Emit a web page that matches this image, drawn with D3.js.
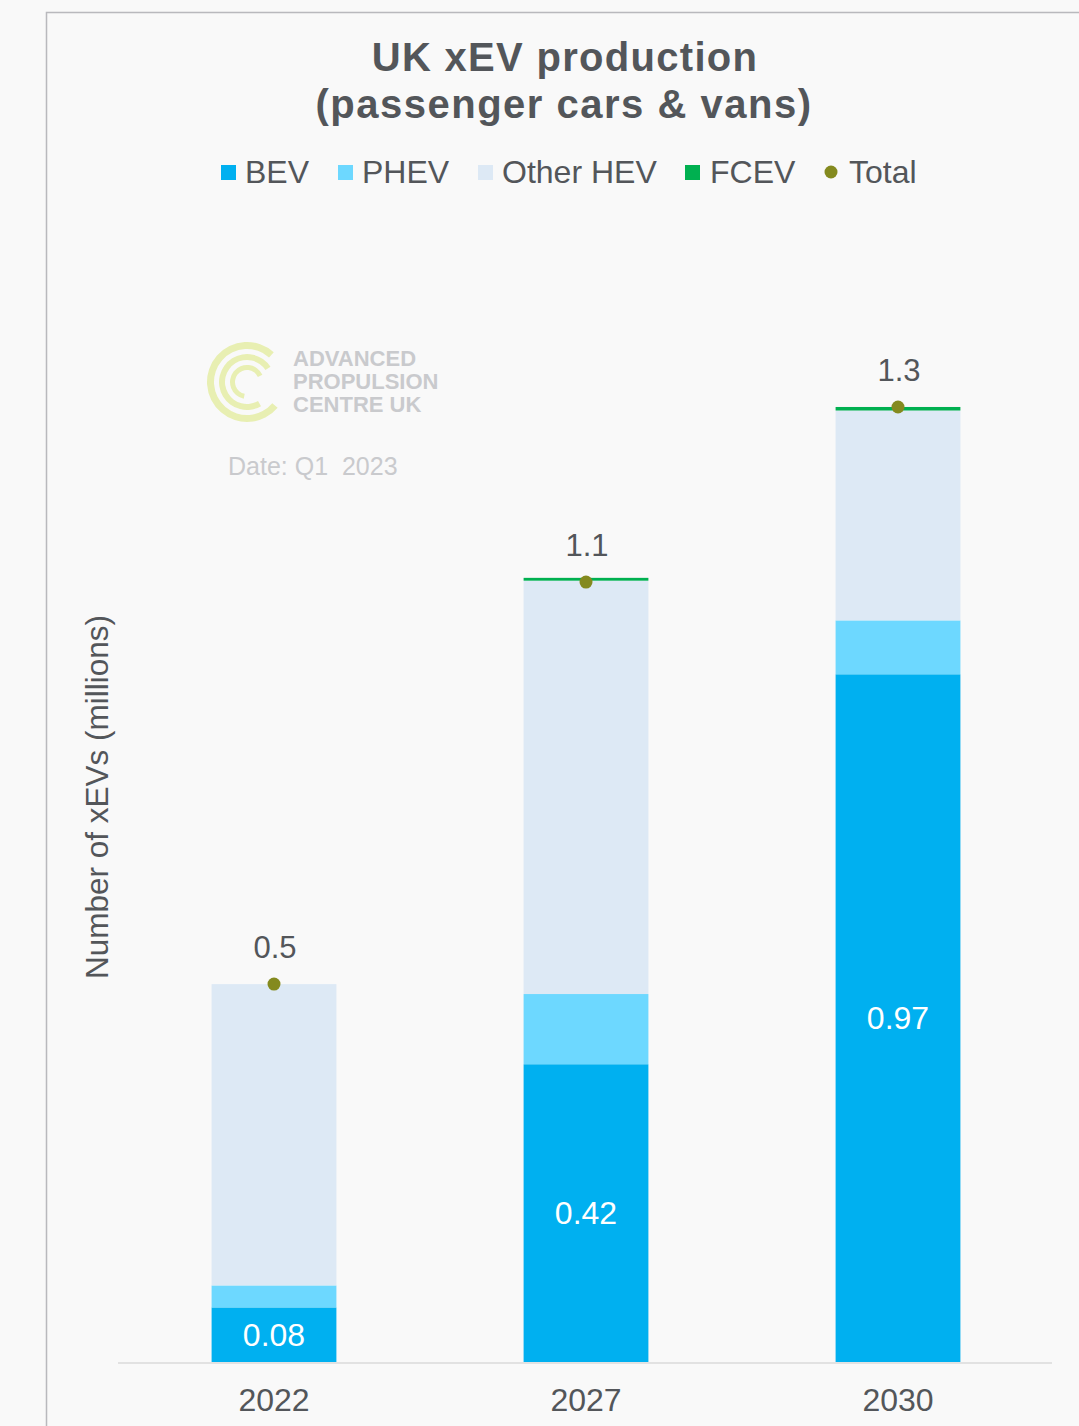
<!DOCTYPE html>
<html><head><meta charset="utf-8">
<script src="https://cdn.jsdelivr.net/npm/d3@7"></script>
<style>html,body{margin:0;padding:0;background:#f9f9f9;}svg{display:block;font-family:"Liberation Sans",Arial,sans-serif;}</style>
</head><body>
<script>
const years = ["2022", "2027", "2030"];
const bev = [0.077, 0.42, 0.97];
const phev = [0.031, 0.099, 0.076];
const otherHev = [0.425, 0.583, 0.296];
const fcev = [0.0, 0.004, 0.005];
const totalValues = [0.533, 1.100, 1.347];
const totalLabels = ["0.5", "1.1", "1.3"];
const bevLabels = ["0.08", "0.42", "0.97"];
const seriesNames = ["BEV", "PHEV", "Other HEV", "FCEV"];
const seriesColors = ["#00b0f0", "#6dd8ff", "#dde9f5", "#00b050"];
const totalColor = "#848a1f";
const textColor = "#53565a";

const W = 1079, H = 1426;
const svg = d3.select("body").append("svg").attr("width", W).attr("height", H);
svg.append("rect").attr("width", W).attr("height", H).attr("fill", "#f9f9f9");
// frame
svg.append("path").attr("d", `M46.5,${H} V12.5 H${W}`).attr("fill", "none").attr("stroke", "#b9b9bd").attr("stroke-width", 1.5);

const rows = years.map((y, i) => ({year: y, BEV: bev[i], PHEV: phev[i], "Other HEV": otherHev[i], FCEV: fcev[i]}));
const stack = d3.stack().keys(seriesNames)(rows);

const x = d3.scaleBand().domain(years).range([118, 1054]).paddingInner(0.6).paddingOuter(0.3);
const baseY = 1362;
const y = d3.scaleLinear().domain([0, 1.6]).range([baseY, baseY - 1.6 * 709]);

// bars
stack.forEach((s, si) => {
  svg.append("g").selectAll("rect").data(s).join("rect")
    .attr("x", d => x(d.data.year))
    .attr("width", x.bandwidth())
    .attr("y", d => y(d[1]))
    .attr("height", d => Math.max(0, y(d[0]) - y(d[1])))
    .attr("fill", seriesColors[si]);
});

// baseline
svg.append("line").attr("x1", 118).attr("x2", 1052).attr("y1", baseY + 1).attr("y2", baseY + 1)
  .attr("stroke", "#e2e2e2").attr("stroke-width", 2);

// x axis labels
const xAxis = svg.append("g").attr("transform", `translate(0,${baseY})`)
  .call(d3.axisBottom(x).tickSize(0).tickPadding(0));
xAxis.select(".domain").remove();
xAxis.selectAll("text").attr("font-size", 32).attr("fill", textColor)
  .attr("font-family", '"Liberation Sans",Arial,sans-serif').attr("dy", null).attr("y", 49);

// BEV labels
svg.append("g").selectAll("text").data(stack[0]).join("text")
  .attr("x", d => x(d.data.year) + x.bandwidth() / 2)
  .attr("y", d => (y(d[0]) + y(d[1])) / 2 + 11)
  .attr("text-anchor", "middle").attr("font-size", 32).attr("fill", "#ffffff")
  .text((d, i) => bevLabels[i]);

// totals
const totals = years.map((yr, i) => ({year: yr, v: totalValues[i], label: totalLabels[i]}));
svg.append("g").selectAll("circle").data(totals).join("circle")
  .attr("cx", d => x(d.year) + x.bandwidth() / 2).attr("cy", d => y(d.v)).attr("r", 6.5).attr("fill", totalColor);
svg.append("g").selectAll("text").data(totals).join("text")
  .attr("x", d => x(d.year) + x.bandwidth() / 2 + 1).attr("y", d => y(d.v) - 26)
  .attr("text-anchor", "middle").attr("font-size", 31).attr("fill", textColor).text(d => d.label);

// title
svg.append("text").attr("x", 565).attr("y", 71).attr("text-anchor", "middle").attr("letter-spacing", 1.3)
  .attr("font-size", 40).attr("font-weight", "bold").attr("fill", textColor).text("UK xEV production");
svg.append("text").attr("x", 564).attr("y", 118).attr("text-anchor", "middle").attr("letter-spacing", 1.5)
  .attr("font-size", 40).attr("font-weight", "bold").attr("fill", textColor).text("(passenger cars & vans)");

// legend
const legendItems = [
  {name: "BEV", color: seriesColors[0], sx: 221, tx: 245, type: "sq"},
  {name: "PHEV", color: seriesColors[1], sx: 338, tx: 362, type: "sq"},
  {name: "Other HEV", color: seriesColors[2], sx: 478, tx: 502, type: "sq"},
  {name: "FCEV", color: seriesColors[3], sx: 685, tx: 710, type: "sq"},
  {name: "Total", color: totalColor, sx: 824, tx: 849, type: "dot"}
];
const lg = svg.append("g");
legendItems.forEach(it => {
  if (it.type === "sq") lg.append("rect").attr("x", it.sx).attr("y", 165).attr("width", 15).attr("height", 15).attr("fill", it.color);
  else lg.append("circle").attr("cx", it.sx + 7).attr("cy", 172).attr("r", 6.5).attr("fill", it.color);
  lg.append("text").attr("x", it.tx).attr("y", 183).attr("font-size", 32).attr("fill", textColor).text(it.name);
});

// y axis title
svg.append("text").attr("transform", "translate(108,797) rotate(-90)").attr("text-anchor", "middle")
  .attr("font-size", 31.5).attr("fill", textColor).text("Number of xEVs (millions)");

// watermark logo
const logo = svg.append("g").attr("transform", "translate(247,382)");
const arc = d3.arc();
const deg = Math.PI / 180;
[[33, 40, 130, 402], [22, 28, 150, 417], [12, 17, 191, 425]].forEach(([r0, r1, a0, a1]) => {
  logo.append("path").attr("d", arc({innerRadius: r0, outerRadius: r1, startAngle: a0 * deg, endAngle: a1 * deg, cornerRadius: 3}))
    .attr("fill", "#e8efb2");
});
const wm = svg.append("g").attr("fill", "#c9cacd").attr("font-size", 22).attr("font-weight", "bold");
wm.append("text").attr("x", 293).attr("y", 366).text("ADVANCED");
wm.append("text").attr("x", 293).attr("y", 389).text("PROPULSION");
wm.append("text").attr("x", 293).attr("y", 412).text("CENTRE UK");
svg.append("text").attr("x", 228).attr("y", 475).attr("font-size", 25).attr("fill", "#c9cacd")
  .attr("xml:space", "preserve").style("white-space", "pre").text("Date: Q1  2023");
</script>
</body></html>
